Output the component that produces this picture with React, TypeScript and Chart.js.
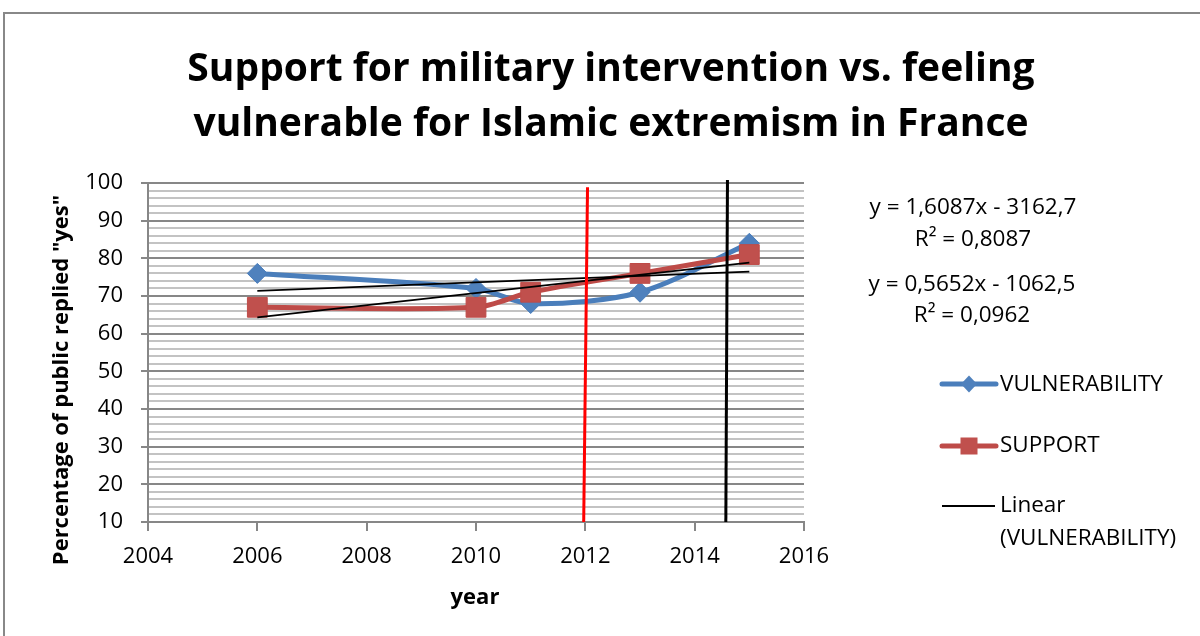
import { useEffect, useRef } from "react";
import { Chart, registerables } from "chart.js";

Chart.register(...registerables);

// Survey years and share of respondents answering "yes" (%)
const years = [2006, 2010, 2011, 2013, 2015];
const vulnerability = [76, 72, 68, 71, 84];
const support = [67, 67, 71, 76, 81];

// Axis ranges and steps
const xRange = [2004, 2016];
const xStep = 2;
const yRange = [10, 100];
const yMinorStep = 2;
const yMajorStep = 10;

// Hand-drawn event markers (year, value) – bottom and top ends
const redMarkerX = [2011.97, 2012.04];
const redMarkerY = [10, 98.9];
const blackMarkerX = [2014.57, 2014.6];
const blackMarkerY = [10, 100.8];

const titleLines = [
  "Support for military intervention vs. feeling",
  "vulnerable for Islamic extremism in France",
];
const yTitle = 'Percentage of public replied "yes"';
const xTitle = "year";
const legendLabels = ["VULNERABILITY", "SUPPORT", "Linear", "(VULNERABILITY)"];

const FONT = "'Open Sans', 'Noto Sans', sans-serif";
const BLUE_LINE = "#4A7EBB";
const BLUE_FILL = "#4F81BD";
const RED_LINE = "#BE4B48";
const RED_FILL = "#C0504D";
const GRID_MAJOR = "#878787";
const GRID_MINOR = "#c3c3c3";

function linearFit(xs: number[], ys: number[]) {
  const n = xs.length;
  const mx = xs.reduce((a, b) => a + b, 0) / n;
  const my = ys.reduce((a, b) => a + b, 0) / n;
  let sxy = 0;
  let sxx = 0;
  let syy = 0;
  for (let i = 0; i < n; i++) {
    sxy += (xs[i] - mx) * (ys[i] - my);
    sxx += (xs[i] - mx) ** 2;
    syy += (ys[i] - my) ** 2;
  }
  const slope = sxy / sxx;
  const intercept = my - slope * mx;
  const r2 = (sxy * sxy) / (sxx * syy);
  return { slope, intercept, r2 };
}

const comma = (v: number, d: number) => v.toFixed(d).replace(".", ",");

function equationText(fit: { slope: number; intercept: number; r2: number }) {
  const sign = fit.intercept < 0 ? "-" : "+";
  return [
    `y = ${comma(fit.slope, 4)}x ${sign} ${comma(Math.abs(fit.intercept), 1)}`,
    `R² = ${comma(fit.r2, 4)}`,
  ];
}

const points = (xs: number[], ys: number[]) => xs.map((x, i) => ({ x, y: ys[i] }));

export default function App() {
  const canvasRef = useRef<HTMLCanvasElement | null>(null);

  useEffect(() => {
    const canvas = canvasRef.current;
    if (!canvas) return;

    const vulnFit = linearFit(years, vulnerability);
    const suppFit = linearFit(years, support);
    const x0 = years[0];
    const x1 = years[years.length - 1];
    const trend = (f: { slope: number; intercept: number }) => [
      { x: x0, y: f.slope * x0 + f.intercept },
      { x: x1, y: f.slope * x1 + f.intercept },
    ];

    const decorations = {
      id: "decorations",
      beforeDraw(chart: Chart) {
        const ctx = chart.ctx;
        ctx.save();
        ctx.fillStyle = "#ffffff";
        ctx.fillRect(0, 0, chart.width, chart.height);
        ctx.restore();
      },
      afterDraw(chart: Chart) {
        const ctx = chart.ctx;
        ctx.save();

        // outer frame
        ctx.strokeStyle = "#888888";
        ctx.lineWidth = 2;
        ctx.beginPath();
        ctx.moveTo(4, chart.height + 2);
        ctx.lineTo(4, 13);
        ctx.lineTo(chart.width + 2, 13);
        ctx.stroke();

        // title
        ctx.fillStyle = "#000";
        ctx.textAlign = "center";
        ctx.textBaseline = "middle";
        ctx.font = `bold 39px ${FONT}`;
        ctx.fillText(titleLines[0], 611, 70);
        ctx.fillText(titleLines[1], 611, 125);

        // axis titles
        ctx.font = `bold 22px ${FONT}`;
        ctx.fillText(xTitle, 475, 598);
        ctx.save();
        ctx.translate(62, 380);
        ctx.rotate(-Math.PI / 2);
        ctx.fillText(yTitle, 0, 0);
        ctx.restore();

        // trendline equations
        ctx.font = `22.5px ${FONT}`;
        const [s1, s2] = equationText(suppFit);
        const [v1, v2] = equationText(vulnFit);
        ctx.fillText(s1, 973, 208);
        ctx.fillText(s2, 973, 240);
        ctx.fillText(v1, 972, 285);
        ctx.fillText(v2, 972, 316);

        // legend
        const lx0 = 942;
        const lx1 = 996;
        const lmx = 969;
        ctx.lineCap = "round";
        // vulnerability
        ctx.strokeStyle = BLUE_LINE;
        ctx.lineWidth = 5;
        ctx.beginPath();
        ctx.moveTo(lx0, 384);
        ctx.lineTo(lx1, 384);
        ctx.stroke();
        ctx.fillStyle = BLUE_FILL;
        ctx.beginPath();
        ctx.moveTo(lmx, 375.5);
        ctx.lineTo(lmx + 8, 384);
        ctx.lineTo(lmx, 392.5);
        ctx.lineTo(lmx - 8, 384);
        ctx.closePath();
        ctx.fill();
        // support
        ctx.strokeStyle = RED_LINE;
        ctx.beginPath();
        ctx.moveTo(lx0, 446);
        ctx.lineTo(lx1, 446);
        ctx.stroke();
        ctx.fillStyle = RED_FILL;
        ctx.fillRect(lmx - 8.5, 437.5, 17, 17);
        // linear trend
        ctx.lineCap = "butt";
        ctx.strokeStyle = "#000";
        ctx.lineWidth = 2;
        ctx.beginPath();
        ctx.moveTo(lx0, 506);
        ctx.lineTo(lx1 - 1, 506);
        ctx.stroke();

        ctx.fillStyle = "#000";
        ctx.textAlign = "left";
        ctx.font = `22.5px ${FONT}`;
        ctx.fillText(legendLabels[0], 1000, 385);
        ctx.fillText(legendLabels[1], 1000, 446);
        ctx.fillText(legendLabels[2], 1000, 506);
        ctx.fillText(legendLabels[3], 1000, 539);

        ctx.restore();
      },
    };

    const isMajor = (v: number) => Math.abs(v % yMajorStep) < 1e-6;

    const chart = new Chart(canvas, {
      type: "line",
      data: {
        datasets: [
          {
            label: "marker-red",
            data: points(redMarkerX, redMarkerY),
            borderColor: "#FF0000",
            borderWidth: 3,
            pointRadius: 0,
            tension: 0,
            clip: false,
            order: 0,
          },
          {
            label: "marker-black",
            data: points(blackMarkerX, blackMarkerY),
            borderColor: "#000000",
            borderWidth: 3,
            pointRadius: 0,
            tension: 0,
            clip: false,
            order: 1,
          },
          {
            label: "Linear (VULNERABILITY)",
            data: trend(vulnFit),
            borderColor: "#000000",
            borderWidth: 1.75,
            pointRadius: 0,
            tension: 0,
            order: 2,
          },
          {
            label: "Linear (SUPPORT)",
            data: trend(suppFit),
            borderColor: "#000000",
            borderWidth: 1.75,
            pointRadius: 0,
            tension: 0,
            order: 3,
          },
          {
            label: "SUPPORT",
            data: points(years, support),
            borderColor: RED_LINE,
            borderWidth: 5,
            pointStyle: "rect",
            pointRadius: 14,
            pointBackgroundColor: RED_FILL,
            pointBorderColor: RED_LINE,
            pointBorderWidth: 1,
            tension: 0.28,
            order: 4,
          },
          {
            label: "VULNERABILITY",
            data: points(years, vulnerability),
            borderColor: BLUE_LINE,
            borderWidth: 5,
            pointStyle: "rectRot",
            pointRadius: 10,
            pointBackgroundColor: BLUE_FILL,
            pointBorderColor: BLUE_LINE,
            pointBorderWidth: 1,
            tension: 0.3,
            order: 5,
          },
        ],
      },
      options: {
        animation: false,
        responsive: false,
        devicePixelRatio: 1,
        events: [],
        layout: { padding: { left: 0, top: 183, right: 396, bottom: 0 } },
        plugins: {
          legend: { display: false },
          title: { display: false },
          tooltip: { enabled: false },
        },
        scales: {
          x: {
            type: "linear",
            min: xRange[0],
            max: xRange[1],
            afterFit: (s: any) => {
              s.height = 114;
            },
            ticks: {
              stepSize: xStep,
              autoSkip: false,
              maxRotation: 0,
              padding: 13,
              color: "#000",
              font: { family: FONT, size: 22 },
              callback: (v: any) => String(v),
            },
            grid: {
              drawOnChartArea: false,
              drawTicks: true,
              tickLength: 9,
              color: GRID_MAJOR,
              lineWidth: 2,
            },
            border: { color: GRID_MAJOR, width: 2 },
          },
          y: {
            type: "linear",
            min: yRange[0],
            max: yRange[1],
            afterFit: (s: any) => {
              s.width = 148;
            },
            ticks: {
              stepSize: yMinorStep,
              autoSkip: false,
              padding: 18,
              color: "#000",
              font: { family: FONT, size: 22 },
              callback: (v: any) => (isMajor(Number(v)) ? String(v) : ""),
            },
            grid: {
              drawTicks: true,
              tickLength: 7,
              color: (c: any) => (c.tick && isMajor(c.tick.value) ? GRID_MAJOR : GRID_MINOR),
              lineWidth: 2,
              tickColor: (c: any) =>
                c.tick && isMajor(c.tick.value) ? GRID_MAJOR : "rgba(0,0,0,0)",
            },
            border: { color: GRID_MAJOR, width: 2 },
          },
        },
      },
      plugins: [decorations],
    });

    return () => chart.destroy();
  }, []);

  return (
    <div style={{ position: "absolute", left: 0, top: 0, width: 1200, height: 636, background: "#fff" }}>
      <canvas ref={canvasRef} width={1200} height={636} style={{ display: "block" }} />
    </div>
  );
}
